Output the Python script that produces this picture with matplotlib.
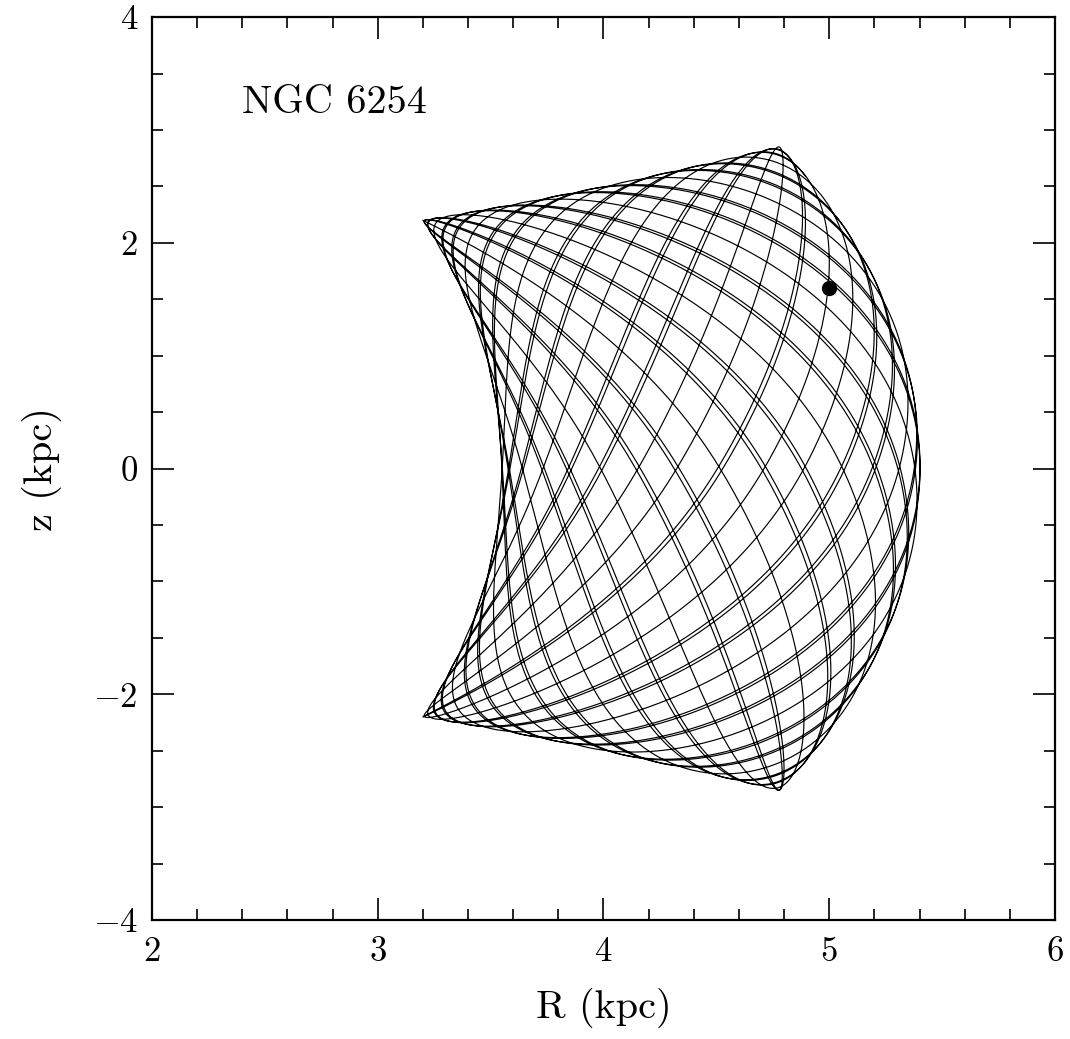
import math
import numpy as np
import matplotlib.pyplot as plt

G = 4.30091e-6  # kpc (km/s)^2 / Msun

# Paczynski (1990) Galactic potential: bulge + disk (Miyamoto-Nagai) + halo
bulge_mass, bulge_a, bulge_b = 1.12e10, 0.0, 0.277
disk_mass, disk_a, disk_b = 8.07e10, 3.7, 0.20
halo_mass, halo_rc = 5.0e10, 6.0

cluster_name = 'NGC 6254'
cluster_R, cluster_z = 5.0, 1.6
# orbit starts at rest (meridional plane) at its inner turning corner
start_R, start_z = 3.2, 2.2
Lz = 735.0         # kpc km/s
t_total = 2.7      # kpc/(km/s), ~ Gyr
dt = 2e-4


def mn_grad(R, z, M, a, b):
    S = math.sqrt(z * z + b * b)
    D3 = (R * R + (a + S) ** 2) ** 1.5
    return G * M * R / D3, G * M * z * (a + S) / (S * D3)


def halo_grad(R, z):
    r = math.sqrt(R * R + z * z)
    x = r / halo_rc
    dphi = G * halo_mass * (x - math.atan(x)) / (halo_rc ** 2 * x * x)
    return dphi * R / r, dphi * z / r


def accel(R, z, Lz2):
    gR, gz = 0.0, 0.0
    for g in (mn_grad(R, z, bulge_mass, bulge_a, bulge_b),
              mn_grad(R, z, disk_mass, disk_a, disk_b),
              halo_grad(R, z)):
        gR += g[0]
        gz += g[1]
    return -gR + Lz2 / R ** 3, -gz


def integrate(Lz):
    # leapfrog in the meridional plane
    Lz2 = Lz * Lz
    n = int(t_total / dt)
    R, z, vR, vz = start_R, start_z, 0.0, 0.0
    Rs = np.empty(n)
    zs = np.empty(n)
    aR, az = accel(R, z, Lz2)
    for i in range(n):
        vR += 0.5 * dt * aR
        vz += 0.5 * dt * az
        R += dt * vR
        z += dt * vz
        aR, az = accel(R, z, Lz2)
        vR += 0.5 * dt * aR
        vz += 0.5 * dt * az
        Rs[i] = R
        zs[i] = z
    return Rs, zs


plt.rcParams['font.family'] = 'serif'
plt.rcParams['font.serif'] = ['cmr10']
plt.rcParams['axes.formatter.use_mathtext'] = True
plt.rcParams['mathtext.fontset'] = 'cm'

fig = plt.figure(figsize=(10.7, 10.39), dpi=100)
ax = fig.add_axes([0.142, 0.1145, 0.844, 0.869])
Rs, zs = integrate(Lz)
ax.plot(Rs, zs, color='black', lw=0.85)
ax.plot([cluster_R], [cluster_z], 'o', color='black', ms=10)
ax.text(2.4, 3.15, cluster_name, fontsize=29)

ax.set_xlim(2, 6)
ax.set_ylim(-4, 4)
ax.set_xticks([2, 3, 4, 5, 6])
ax.set_xticks(np.arange(2, 6.01, 0.2), minor=True)
ax.set_yticks([-4, -2, 0, 2, 4])
ax.set_yticks(np.arange(-4, 4.01, 0.5), minor=True)
ax.tick_params(which='both', direction='in', top=True, right=True,
               width=1.2, labelsize=25)
ax.tick_params(axis='x', pad=12)
ax.tick_params(axis='y', pad=10)
ax.tick_params(which='major', length=16)
ax.tick_params(which='minor', length=8)
for s in ax.spines.values():
    s.set_linewidth(1.6)
ax.set_xlabel('R (kpc)', fontsize=29, labelpad=14)
ax.set_ylabel('z (kpc)', fontsize=29, labelpad=22)

fig.savefig('out.png', dpi=100)
